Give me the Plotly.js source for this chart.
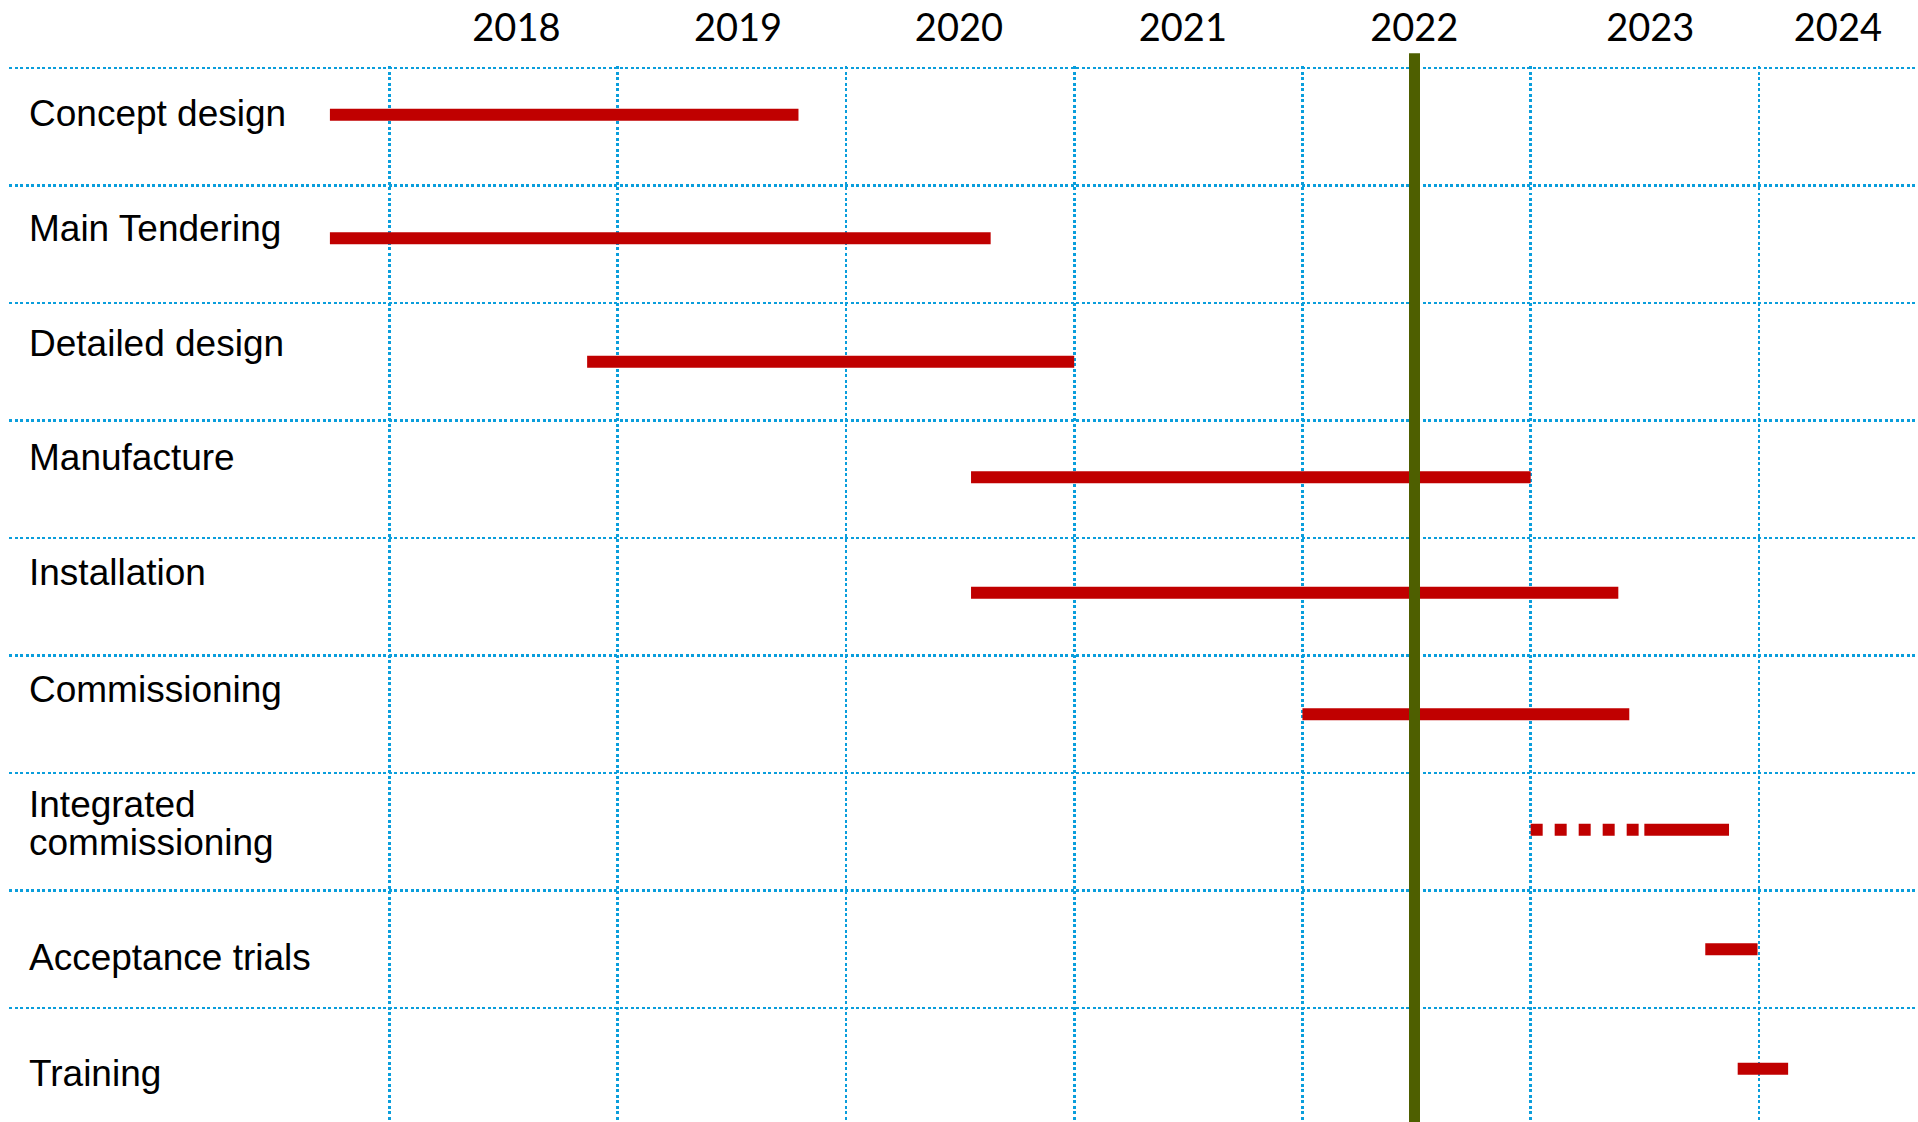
<!DOCTYPE html>
<html>
<head>
<meta charset="utf-8">
<script src="https://cdn.plot.ly/plotly-3.0.1.min.js"></script>
<style>
  html, body { margin: 0; padding: 0; background: #ffffff; }
  #chart { width: 1918px; height: 1122px; }
</style>
</head>
<body>
<div id="chart"></div>
<script>
// ---------------- data ----------------
const tasks = ['Concept design', 'Main Tendering', 'Detailed design', 'Manufacture', 'Installation',
               'Commissioning', 'Integrated commissioning', 'Acceptance trials', 'Training'];
const startYear = [2017.739, 2017.739, 2018.866, 2020.548, 2020.548, 2022.000, 2023.498, 2023.765, 2023.907];
const endYear   = [2019.792, 2020.634, 2021.000, 2023.000, 2023.384, 2023.432, 2023.869, 2023.994, 2024.128];

// dashed (provisional) part of a task
const plannedTask  = ['Integrated commissioning'];
const plannedStart = [2023.000];
const plannedEnd   = [2023.473];

// "today" marker
const todayYear = 2022.491;

// axis ticks
const gridYears  = [2018, 2019, 2020, 2021, 2022, 2023, 2024];
const yearLabels = ['2018', '2019', '2020', '2021', '2022', '2023', '2024'];
const yearLabelX = [2018.556, 2019.527, 2020.495, 2021.476, 2022.490, 2023.524, 2024.346];
const taskLabelLines = [['Concept design'], ['Main Tendering'], ['Detailed design'], ['Manufacture'],
                        ['Installation'], ['Commissioning'], ['Integrated', 'commissioning'],
                        ['Acceptance trials'], ['Training']];

// ---------------- style / layout constants ----------------
const ROW_PX = 117.5;
const TOP_PX = 66;
const PLOT_H = 1122 - TOP_PX;
const barNudgePx = [-12, -6, 0, -2, -4, 0, -2, 0, 2];
const labelShiftPx = [[-13], [-16], [-18.7], [-22], [-24.4], [-24.4], [-26.9, 11.2], [8.6], [6.3]];
const RED = '#C00000';
const GRID = '#0A9EDC';
const OLIVE = '#4E5F00';
const X_RANGE = [2016.333, 2024.697];
const Y_TOP = -0.5 - 2 / ROW_PX;
const Y_RANGE = [Y_TOP + PLOT_H / ROW_PX, Y_TOP];

// ---------------- traces ----------------
const rowOf = name => tasks.indexOf(name);
const solidX = [], solidY = [];
tasks.forEach((t, i) => {
  const y = i + barNudgePx[i] / ROW_PX;
  solidX.push(startYear[i], endYear[i], null);
  solidY.push(y, y, null);
});
const dashX = [], dashY = [];
plannedTask.forEach((t, k) => {
  const i = rowOf(t);
  const y = i + barNudgePx[i] / ROW_PX;
  dashX.push(plannedStart[k], plannedEnd[k], null);
  dashY.push(y, y, null);
});

const traces = [
  {
    type: 'scatter', mode: 'lines', x: solidX, y: solidY,
    line: { color: RED, width: 12 }, hoverinfo: 'skip', connectgaps: false,
    xaxis: 'x', yaxis: 'y'
  },
  {
    type: 'scatter', mode: 'lines', x: dashX, y: dashY,
    line: { color: RED, width: 12, dash: '12px,12px' }, hoverinfo: 'skip', connectgaps: false,
    xaxis: 'x2', yaxis: 'y'
  }
];

// ---------------- annotations (row labels) ----------------
const annotations = [];
taskLabelLines.forEach((lines, i) => {
  lines.forEach((txt, j) => {
    annotations.push({
      xref: 'paper', yref: 'y', x: 18 / 1909, y: i,
      xanchor: 'left', yanchor: 'middle', showarrow: false,
      yshift: -labelShiftPx[i][j],
      text: txt, align: 'left',
      font: { family: 'Liberation Sans, Arial, sans-serif', size: 37, color: '#000000' }
    });
  });
});

const rowBounds = tasks.map((t, i) => i - 0.5).concat([tasks.length - 0.5]);

const layout = {
  width: 1918, height: 1122,
  margin: { l: 9, r: 0, t: TOP_PX, b: 0, pad: 0 },
  paper_bgcolor: '#ffffff', plot_bgcolor: '#ffffff',
  showlegend: false,
  font: { family: 'Liberation Sans, Arial, sans-serif', color: '#000000' },
  xaxis: {
    range: X_RANGE, tickmode: 'array', tickvals: gridYears, showticklabels: false, ticks: '',
    showgrid: true, gridcolor: GRID, gridwidth: 2.8, griddash: '3px,2.5px',
    zeroline: false, showline: false, fixedrange: true
  },
  xaxis2: {
    overlaying: 'x', matches: 'x', side: 'top', anchor: 'y',
    tickmode: 'array', tickvals: yearLabelX, ticktext: yearLabels, ticks: '',
    ticklabelstandoff: 16,
    tickfont: { family: 'Lato, Carlito, sans-serif', size: 38, color: '#000000' },
    showgrid: false, zeroline: false, showline: false, fixedrange: true
  },
  yaxis: {
    range: Y_RANGE, tickmode: 'array', tickvals: rowBounds, showticklabels: false, ticks: '',
    showgrid: true, gridcolor: GRID, gridwidth: 2.8, griddash: '3px,2.5px',
    zeroline: false, showline: false, fixedrange: true
  },
  shapes: [{
    type: 'line', xref: 'x', yref: 'paper',
    x0: todayYear, x1: todayYear, y0: 0, y1: 1 + (TOP_PX - 53.3) / PLOT_H,
    line: { color: OLIVE, width: 11 }, layer: 'above'
  }],
  annotations: annotations
};

Plotly.newPlot('chart', traces, layout, { displayModeBar: false, staticPlot: true });
</script>
</body>
</html>
